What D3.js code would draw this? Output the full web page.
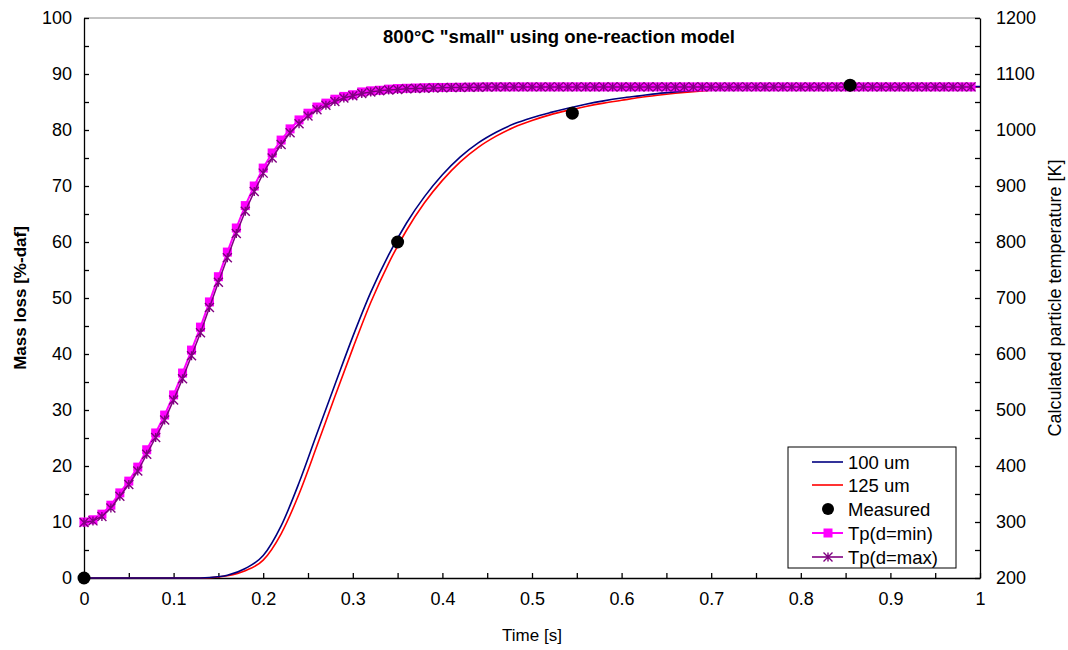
<!DOCTYPE html>
<html>
<head>
<meta charset="utf-8">
<script src="https://cdn.jsdelivr.net/npm/d3@7"></script>
<style>
  body { margin: 0; background: #fff; }
  text { font-family: "Liberation Sans", Arial, sans-serif; }
</style>
</head>
<body>
<div id="chart"></div>
<script>
// Model curves (mass loss, %-daf)
const timeModel = [0, 0.02, 0.04, 0.06, 0.08, 0.10, 0.12, 0.14, 0.16, 0.18, 0.20,
  0.22, 0.24, 0.26, 0.28, 0.30, 0.32, 0.34, 0.36, 0.38, 0.40, 0.42, 0.44, 0.46, 0.48,
  0.50, 0.52, 0.54, 0.56, 0.58, 0.60, 0.62, 0.64, 0.66, 0.68, 0.70, 0.72, 0.74, 0.76,
  0.78, 0.80, 0.85, 0.90, 0.95, 1.00];
const ml100 = [0, 0, 0, 0, 0, 0, 0, 0.1, 0.5, 1.7, 4.0,
  9.3, 17.0, 25.8, 34.5, 43.1, 51.0, 57.7, 63.4, 68.1, 72.0, 75.2, 77.7, 79.6, 81.1,
  82.2, 83.1, 83.9, 84.6, 85.2, 85.7, 86.1, 86.5, 86.8, 87.05, 87.25, 87.4, 87.5, 87.6,
  87.65, 87.7, 87.72, 87.74, 87.75, 87.75];
const ml125 = [0, 0, 0, 0, 0, 0, 0, 0.05, 0.4, 1.3, 3.2,
  7.9, 15.0, 23.6, 32.4, 41.0, 49.2, 56.2, 62.1, 67.0, 71.0, 74.3, 76.9, 78.9, 80.5,
  81.7, 82.7, 83.5, 84.2, 84.8, 85.3, 85.8, 86.2, 86.55, 86.85, 87.1, 87.3, 87.45, 87.55,
  87.6, 87.65, 87.68, 87.7, 87.7, 87.7];

// Measured points
const timeMeas = [0, 0.35, 0.545, 0.855];
const mlMeas = [0, 60, 83, 88];

// Particle temperatures (K)
const timeTp = [0, 0.01, 0.02, 0.03, 0.04, 0.05, 0.06, 0.07, 0.08, 0.09,
  0.10, 0.11, 0.12, 0.13, 0.14, 0.15, 0.16, 0.17, 0.18, 0.19,
  0.20, 0.21, 0.22, 0.23, 0.24, 0.25, 0.26, 0.27, 0.28, 0.29,
  0.30, 0.31, 0.32, 0.33, 0.34, 0.35, 0.36, 0.37, 0.38, 0.39,
  0.40, 0.41, 0.42, 0.43, 0.44, 0.45, 0.46, 0.47, 0.48, 0.49,
  0.50, 0.51, 0.52, 0.53, 0.54, 0.55, 0.56, 0.57, 0.58, 0.59,
  0.60, 0.61, 0.62, 0.63, 0.64, 0.65, 0.66, 0.67, 0.68, 0.69,
  0.70, 0.71, 0.72, 0.73, 0.74, 0.75, 0.76, 0.77, 0.78, 0.79,
  0.80, 0.81, 0.82, 0.83, 0.84, 0.85, 0.86, 0.87, 0.88, 0.89,
  0.90, 0.91, 0.92, 0.93, 0.94, 0.95, 0.96, 0.97, 0.98, 0.99];
const tpMin = [300, 304, 314, 330, 352, 373, 398, 429, 459, 491,
  527, 566, 607, 648, 693, 738, 782, 825, 865, 900,
  932, 959, 982, 1002, 1018, 1030, 1041, 1048, 1055, 1060,
  1063, 1068, 1070, 1071, 1073, 1074, 1074.5, 1075, 1075.5, 1076,
  1076, 1076.2, 1076.4, 1076.6, 1076.8, 1077, 1077, 1077, 1077, 1077,
  1077, 1077, 1077, 1077, 1077, 1077, 1077, 1077, 1077, 1077,
  1077, 1077, 1077, 1077, 1077, 1077, 1077, 1077, 1077, 1077,
  1077, 1077, 1077, 1077, 1077, 1077, 1077, 1077, 1077, 1077,
  1077, 1077, 1077, 1077, 1077, 1077, 1077, 1077, 1077, 1077,
  1077, 1077, 1077, 1077, 1077, 1077, 1077, 1077, 1077, 1077];
const tpMax = [299, 302, 310, 325, 346, 367, 391, 421, 451, 482,
  518, 556, 597, 638, 683, 728, 772, 815, 855, 890,
  923, 950, 974, 995, 1011, 1025, 1036, 1044, 1051, 1057,
  1061, 1065, 1068, 1070, 1071.5, 1072.5, 1073.5, 1074, 1074.5, 1075,
  1075.5, 1075.8, 1076, 1076.2, 1076.4, 1076.6, 1076.8, 1077, 1077, 1077,
  1077, 1077, 1077, 1077, 1077, 1077, 1077, 1077, 1077, 1077,
  1077, 1077, 1077, 1077, 1077, 1077, 1077, 1077, 1077, 1077,
  1077, 1077, 1077, 1077, 1077, 1077, 1077, 1077, 1077, 1077,
  1077, 1077, 1077, 1077, 1077, 1077, 1077, 1077, 1077, 1077,
  1077, 1077, 1077, 1077, 1077, 1077, 1077, 1077, 1077, 1077];

const xTicks = [0, 0.1, 0.2, 0.3, 0.4, 0.5, 0.6, 0.7, 0.8, 0.9, 1];
const yTicks = [0, 10, 20, 30, 40, 50, 60, 70, 80, 90, 100];
const y2Ticks = [200, 300, 400, 500, 600, 700, 800, 900, 1000, 1100, 1200];

const legendItems = ["100 um", "125 um", "Measured", "Tp(d=min)", "Tp(d=max)"];

// Layout
const W = 1068, H = 650;
const margin = {top: 18, right: 88, bottom: 72, left: 84},
      width = W - margin.left - margin.right,
      height = H - margin.top - margin.bottom;

const svgRoot = d3.select("#chart").append("svg")
    .attr("width", W).attr("height", H);
const svg = svgRoot.append("g")
    .attr("transform", `translate(${margin.left},${margin.top})`);

const x = d3.scaleLinear().domain([0, 1]).range([0, width]);
const y = d3.scaleLinear().domain([0, 100]).range([height, 0]);
const y2 = d3.scaleLinear().domain([200, 1200]).range([height, 0]);

// Top border
svg.append("line").attr("x1", 0).attr("x2", width).attr("y1", 0).attr("y2", 0)
    .attr("stroke", "#888").attr("stroke-width", 1);

// Axes (ticks inward)
const fs = "18px";
const xAxis = svg.append("g").attr("transform", `translate(0,${height})`)
    .call(d3.axisBottom(x).tickValues(d3.range(0, 1.0001, 0.05)).tickSizeInner(-5).tickSizeOuter(0)
      .tickFormat(d => xTicks.some(t => Math.abs(t - d) < 1e-9) ? d3.format("~g")(d) : ""));
xAxis.selectAll("text").attr("y", 14).style("font-size", fs);

const yAxis = svg.append("g")
    .call(d3.axisLeft(y).tickValues(d3.range(0, 100.1, 5)).tickSizeInner(-5).tickSizeOuter(0)
      .tickFormat(d => yTicks.includes(d) ? d : ""));
yAxis.selectAll("text").attr("x", -12).style("font-size", fs);

const y2Axis = svg.append("g").attr("transform", `translate(${width},0)`)
    .call(d3.axisRight(y2).tickValues(d3.range(200, 1200.1, 50)).tickSizeInner(-5).tickSizeOuter(0)
      .tickFormat(d => y2Ticks.includes(d) ? d : ""));
y2Axis.selectAll("text").attr("x", 16).style("font-size", fs);

[xAxis, yAxis, y2Axis].forEach(a => {
  a.selectAll("path,line").attr("stroke", "#000").attr("stroke-width", 1.3);
  a.selectAll("text").attr("fill", "#000").style("font-family", "Liberation Sans, Arial, sans-serif");
});

// Lines
const lineML = d3.line().x(d => x(d[0])).y(d => y(d[1])).curve(d3.curveMonotoneX);
const lineTp = d3.line().x(d => x(d[0])).y(d => y2(d[1]));

svg.append("path").datum(d3.zip(timeModel, ml125))
    .attr("d", lineML).attr("fill", "none").attr("stroke", "#ff0000").attr("stroke-width", 1.6);
svg.append("path").datum(d3.zip(timeModel, ml100))
    .attr("d", lineML).attr("fill", "none").attr("stroke", "#000080").attr("stroke-width", 1.6);

svg.append("path").datum(d3.zip(timeTp, tpMin))
    .attr("d", lineTp).attr("fill", "none").attr("stroke", "#ff00ff").attr("stroke-width", 2);
svg.selectAll(".sq").data(d3.zip(timeTp, tpMin)).enter().append("rect")
    .attr("x", d => x(d[0]) - 4.5).attr("y", d => y2(d[1]) - 4.5)
    .attr("width", 9).attr("height", 9).attr("fill", "#ff00ff");

const star = s => `M${-s},${-s}L${s},${s}M${-s},${s}L${s},${-s}M0,${-s}L0,${s}`;
svg.append("path").datum(d3.zip(timeTp, tpMax))
    .attr("d", lineTp).attr("fill", "none").attr("stroke", "#800080").attr("stroke-width", 1.5);
svg.selectAll(".st").data(d3.zip(timeTp, tpMax)).enter().append("path")
    .attr("transform", d => `translate(${x(d[0])},${y2(d[1])})`)
    .attr("d", star(4.5)).attr("stroke", "#800080").attr("stroke-width", 1.4).attr("fill", "none");

svg.selectAll(".meas").data(d3.zip(timeMeas, mlMeas)).enter().append("circle")
    .attr("cx", d => x(d[0])).attr("cy", d => y(d[1])).attr("r", 6.5).attr("fill", "#000");

// Title and labels
svgRoot.append("text").attr("x", 559).attr("y", 43).attr("text-anchor", "middle")
    .style("font-size", "18.5px").style("font-weight", "bold")
    .text('800°C "small" using one-reaction model');
svgRoot.append("text").attr("x", margin.left + width / 2).attr("y", 641).attr("text-anchor", "middle")
    .style("font-size", "17px").text("Time [s]");
svgRoot.append("text").attr("transform", `translate(26,${margin.top + height / 2}) rotate(-90)`)
    .attr("text-anchor", "middle").style("font-size", "17px").style("font-weight", "bold")
    .text("Mass loss [%-daf]");
svgRoot.append("text").attr("transform", `translate(1061,${margin.top + height / 2}) rotate(-90)`)
    .attr("text-anchor", "middle").style("font-size", "18px")
    .text("Calculated particle temperature [K]");

// Legend
const lg = svgRoot.append("g").attr("transform", "translate(788,447)");
lg.append("rect").attr("width", 168).attr("height", 121)
    .attr("fill", "#fff").attr("stroke", "#000").attr("stroke-width", 1);
const rowY = [15, 38, 62, 86, 110];
legendItems.forEach((name, i) => {
  const g = lg.append("g").attr("transform", `translate(0,${rowY[i]})`);
  if (i === 0 || i === 1 || i === 3 || i === 4) {
    const col = ["#000080", "#ff0000", null, "#ff00ff", "#800080"][i];
    g.append("line").attr("x1", 24).attr("x2", 55).attr("stroke", col).attr("stroke-width", i === 3 ? 2 : 1.6);
  }
  if (i === 2) g.append("circle").attr("cx", 40).attr("r", 6).attr("fill", "#000");
  if (i === 3) g.append("rect").attr("x", 35.5).attr("y", -4.5).attr("width", 9).attr("height", 9).attr("fill", "#ff00ff");
  if (i === 4) g.append("path").attr("transform", "translate(40,0)").attr("d", star(4.5))
      .attr("stroke", "#800080").attr("stroke-width", 1.4);
  g.append("text").attr("x", 60).attr("y", 6.5).style("font-size", "18.5px").text(name);
});
</script>
</body>
</html>
